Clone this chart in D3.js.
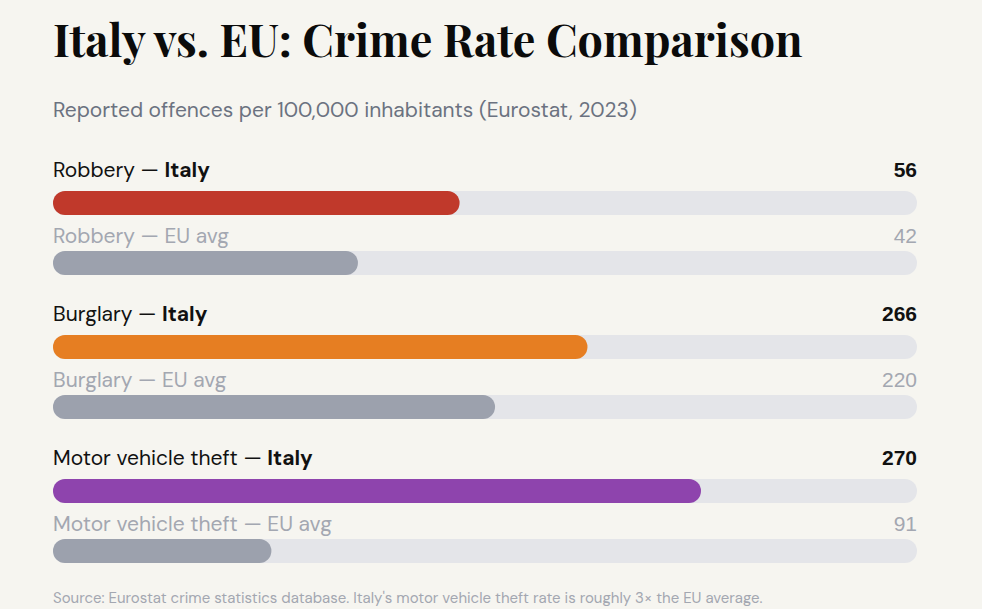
<!DOCTYPE html>
<html>
<head>
<meta charset="utf-8">
<script src="https://cdn.jsdelivr.net/npm/d3@7/dist/d3.min.js"></script>
<style>
  html, body { margin: 0; padding: 0; background: #f6f5f0; }
  svg { display: block; }
</style>
</head>
<body>
<svg id="chart" width="982" height="609"></svg>
<script>
// ---- data ----
const categories = ["Robbery", "Burglary", "Motor vehicle theft"];
const italyValues = [56, 266, 270];
const euValues = [42, 220, 91];
const scaleMax = [119, 430, 360];
const italyColors = ["#c0392b", "#e67e22", "#8e44ad"];

const titleText = "Italy vs. EU: Crime Rate Comparison";
const subtitleText = "Reported offences per 100,000 inhabitants (Eurostat, 2023)";
const sourceText = "Source: Eurostat crime statistics database. Italy's motor vehicle theft rate is roughly 3\u00d7 the EU average.";

// ---- layout ----
const W = 982, H = 609;
const left = 53, right = 917;
const barH = 24;
const groupTop = 191, groupStep = 144, euOffset = 60;
const sansFont = "'DM Sans', Inter, 'Open Sans', sans-serif";

const svg = d3.select("#chart");
svg.append("rect").attr("width", W).attr("height", H).attr("fill", "#f6f5f0");

// fit helper
function fitWidth(sel, base, target, maxFs) {
  const len = sel.node().getComputedTextLength();
  sel.attr("font-size", Math.min(base * target / len, maxFs));
}

const title = svg.append("text")
  .attr("x", left).attr("y", 57)
  .attr("font-family", "'Playfair Display', 'Liberation Serif', serif")
  .attr("font-weight", 700)
  .attr("font-size", 50)
  .attr("fill", "#0b0b0b")
  .text(titleText);
fitWidth(title, 50, 750, 54);

const subtitle = svg.append("text")
  .attr("x", left).attr("y", 117)
  .attr("font-family", sansFont)
  .attr("font-size", 20)
  .attr("fill", "#6b7280")
  .text(subtitleText);
fitWidth(subtitle, 20, 584, 22);

const rows = [];
categories.forEach((c, i) => {
  const x = d3.scaleLinear().domain([0, scaleMax[i]]).range([0, right - left]);
  const y0 = groupTop + i * groupStep;
  rows.push({cat: c, who: "Italy", value: italyValues[i], color: italyColors[i], y: y0, x, italy: true});
  rows.push({cat: c, who: "EU avg", value: euValues[i], color: "#9ca1ad", y: y0 + euOffset, x, italy: false});
});

const g = svg.selectAll("g.row").data(rows).join("g").attr("class", "row");

g.append("rect")
  .attr("x", left).attr("y", d => d.y)
  .attr("width", right - left).attr("height", barH)
  .attr("rx", barH / 2).attr("ry", barH / 2)
  .attr("fill", "#e4e5e9");

g.append("rect")
  .attr("x", left).attr("y", d => d.y)
  .attr("width", d => d.x(d.value)).attr("height", barH)
  .attr("rx", barH / 2).attr("ry", barH / 2)
  .attr("fill", d => d.color);

const lab = g.append("text")
  .attr("x", left)
  .attr("y", d => d.italy ? d.y - 14 : d.y - 8)
  .attr("font-family", sansFont)
  .attr("font-size", 21)
  .attr("fill", d => d.italy ? "#111111" : "#a3a7b1");
lab.append("tspan").text(d => d.cat + " \u2014 ");
lab.append("tspan")
  .attr("font-weight", d => d.italy ? 700 : 400)
  .text(d => d.who);

g.append("text")
  .attr("x", right)
  .attr("y", d => d.italy ? d.y - 14 : d.y - 8)
  .attr("text-anchor", "end")
  .attr("font-family", "'Liberation Sans', Arial, sans-serif")
  .attr("font-size", 21)
  .attr("font-weight", d => d.italy ? 700 : 400)
  .attr("fill", d => d.italy ? "#111111" : "#a3a7b1")
  .text(d => d.value);

const source = svg.append("text")
  .attr("x", left).attr("y", 603)
  .attr("font-family", sansFont)
  .attr("font-size", 14)
  .attr("fill", "#a3a7b1")
  .text(sourceText);
fitWidth(source, 14, 710, 15.5);
</script>
</body>
</html>
